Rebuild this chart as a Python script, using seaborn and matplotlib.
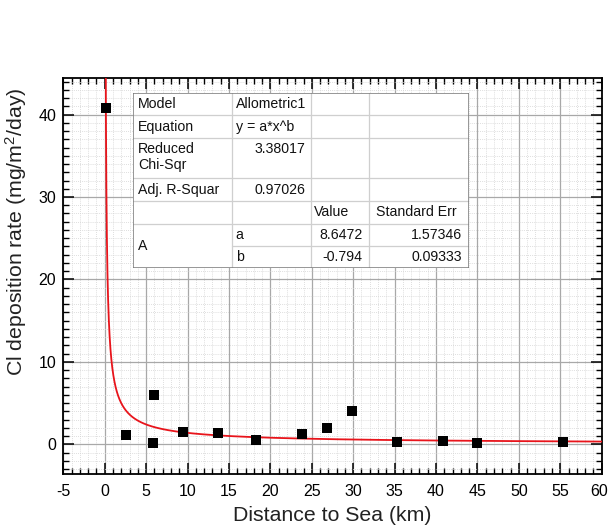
import numpy as np
import pandas as pd
import matplotlib
matplotlib.use("Agg")
import matplotlib.pyplot as plt
from matplotlib.ticker import MultipleLocator
from matplotlib.transforms import ScaledTranslation
import seaborn as sns

# ---- data ----
distance = [0.12, 2.6, 5.95, 5.85, 9.45, 13.65, 18.3, 23.8, 26.8, 29.8, 35.3, 40.8, 44.9, 55.3]
rate = [40.8, 1.15, 5.95, 0.2, 1.45, 1.35, 0.55, 1.3, 1.95, 4.1, 0.25, 0.4, 0.2, 0.25]

# fit results (Allometric1: y = a*x^b)
fit_a = 8.6472
fit_b = -0.794

table_rows = [
    ["Model", "Allometric1", "", ""],
    ["Equation", "y = a*x^b", "", ""],
    ["Reduced\nChi-Sqr", "3.38017", "", ""],
    ["Adj. R-Squar", "0.97026", "", ""],
    ["", "", "Value", "Standard Err"],
    ["A", "a", "8.6472", "1.57346"],
    ["", "b", "-0.794", "0.09333"],
]

x_label = "Distance to Sea (km)"
y_label = r"Cl deposition rate (mg/m$^2$/day)"

# ---- style ----
sns.set_theme(style="white")
plt.rcParams["font.family"] = ["Liberation Sans", "DejaVu Sans"]
plt.rcParams["mathtext.default"] = "regular"
plt.rcParams["axes.unicode_minus"] = False

W, H = 609, 527
fig = plt.figure(figsize=(W / 100, H / 100), dpi=100)
ax = fig.add_axes([63.3 / W, 1 - 474 / H, (601.7 - 63.3) / W, (474 - 78.3) / H])

df = pd.DataFrame({"x": distance, "y": rate})
xfit = np.geomspace(0.1, 60, 800)
fit_df = pd.DataFrame({"x": xfit, "y": fit_a * xfit ** fit_b})

sns.lineplot(data=fit_df, x="x", y="y", ax=ax, color="#e8141b", lw=1.3, zorder=3)
sns.scatterplot(data=df, x="x", y="y", ax=ax, marker="s", s=42, color="black",
                edgecolor="black", linewidth=0, zorder=4)

ax.set_xlim(-5, 60)
ax.set_ylim(-3.6, 44.4)
ax.xaxis.set_major_locator(MultipleLocator(5))
ax.xaxis.set_minor_locator(MultipleLocator(1))
ax.yaxis.set_major_locator(MultipleLocator(10))
ax.yaxis.set_minor_locator(MultipleLocator(1))

ax.set_axisbelow(True)
ax.grid(which="major", color="#a8a8a8", lw=0.9, ls="-")
ax.grid(which="minor", color="#d4d4d4", lw=0.6, ls=(0, (1, 1.5)))

ax.tick_params(which="both", direction="in", top=True, right=True, bottom=True, left=True,
               colors="black", labelsize=11.5)
ax.tick_params(which="major", length=8, width=1.1)
ax.tick_params(which="minor", length=4.5, width=1.0)
ax.tick_params(axis="x", which="both", labeltop=False, pad=7)
ax.tick_params(axis="y", which="both", labelright=False, pad=5)
for s in ax.spines.values():
    s.set_color("black")
    s.set_linewidth(1.3)

ax.set_xlabel(x_label, fontsize=15.3, color="#222222", labelpad=5.5)
ax.set_ylabel(y_label, fontsize=15.3, color="#222222")
ax.yaxis.set_label_coords(-0.063, 0.612)

# nudge the last x tick label so it stays inside the figure
fig.canvas.draw()
for lab in ax.get_xticklabels():
    if lab.get_text() == "60":
        lab.set_transform(lab.get_transform() + ScaledTranslation(-3 / 100, 0, fig.dpi_scale_trans))

# ---- fit result table ----
tx0, ty0, tx1, ty1 = 132.7, 92.7, 469.3, 268.3
tw, th = tx1 - tx0, ty1 - ty0
tax = fig.add_axes([tx0 / W, 1 - ty1 / H, tw / W, th / H])
tax.set_xlim(0, tw)
tax.set_ylim(th, 0)
tax.axis("off")
tax.add_patch(plt.Rectangle((0, 0), tw, th, facecolor="white", edgecolor="none", zorder=0))

col_edges = [0, 99, 178, 236.6, tw]
row_edges = [0, 22.6, 45, 85.6, 108.3, 131.3, 153.3, th]
inner = "#cfcfcf"
for c in col_edges[1:-1]:
    tax.plot([c, c], [0, th], color=inner, lw=0.9, zorder=1)
for i, r in enumerate(row_edges[1:-1], start=1):
    start = col_edges[1] if i == 6 else 0
    tax.plot([start, tw], [r, r], color=inner, lw=0.9, zorder=1)
tax.add_patch(plt.Rectangle((0, 0), tw, th, facecolor="none", edgecolor="#7a7a7a", lw=1.1, zorder=2))

fs = 10.2
for ri, row in enumerate(table_rows):
    r_top = row_edges[ri]
    yc = r_top + 11.3
    for ci, txt in enumerate(row):
        if not txt:
            continue
        left = col_edges[ci]
        right = col_edges[ci + 1]
        if ci == 0 and txt == "A":
            tax.text(left + 5.5, (row_edges[5] + row_edges[7]) / 2, txt, fontsize=fs,
                     ha="left", va="center", color="#111111")
            continue
        if ci == 0 and "\n" in txt:
            tax.text(left + 5.5, r_top + 4, txt, fontsize=fs, ha="left", va="top",
                     color="#111111", linespacing=1.25)
            continue
        numeric = txt.replace(".", "").replace("-", "").isdigit()
        if numeric:
            pad = 5.7 if ci == 1 else 7
            tax.text(right - pad, yc, txt, fontsize=fs, ha="right", va="center", color="#111111")
        else:
            pad = 5.5 if ci == 0 else (4 if ci < 3 else 7)
            if ci == 2:
                pad = 3
            tax.text(left + pad, yc, txt, fontsize=fs, ha="left", va="center", color="#111111")

fig.savefig("out.png", dpi=100)
